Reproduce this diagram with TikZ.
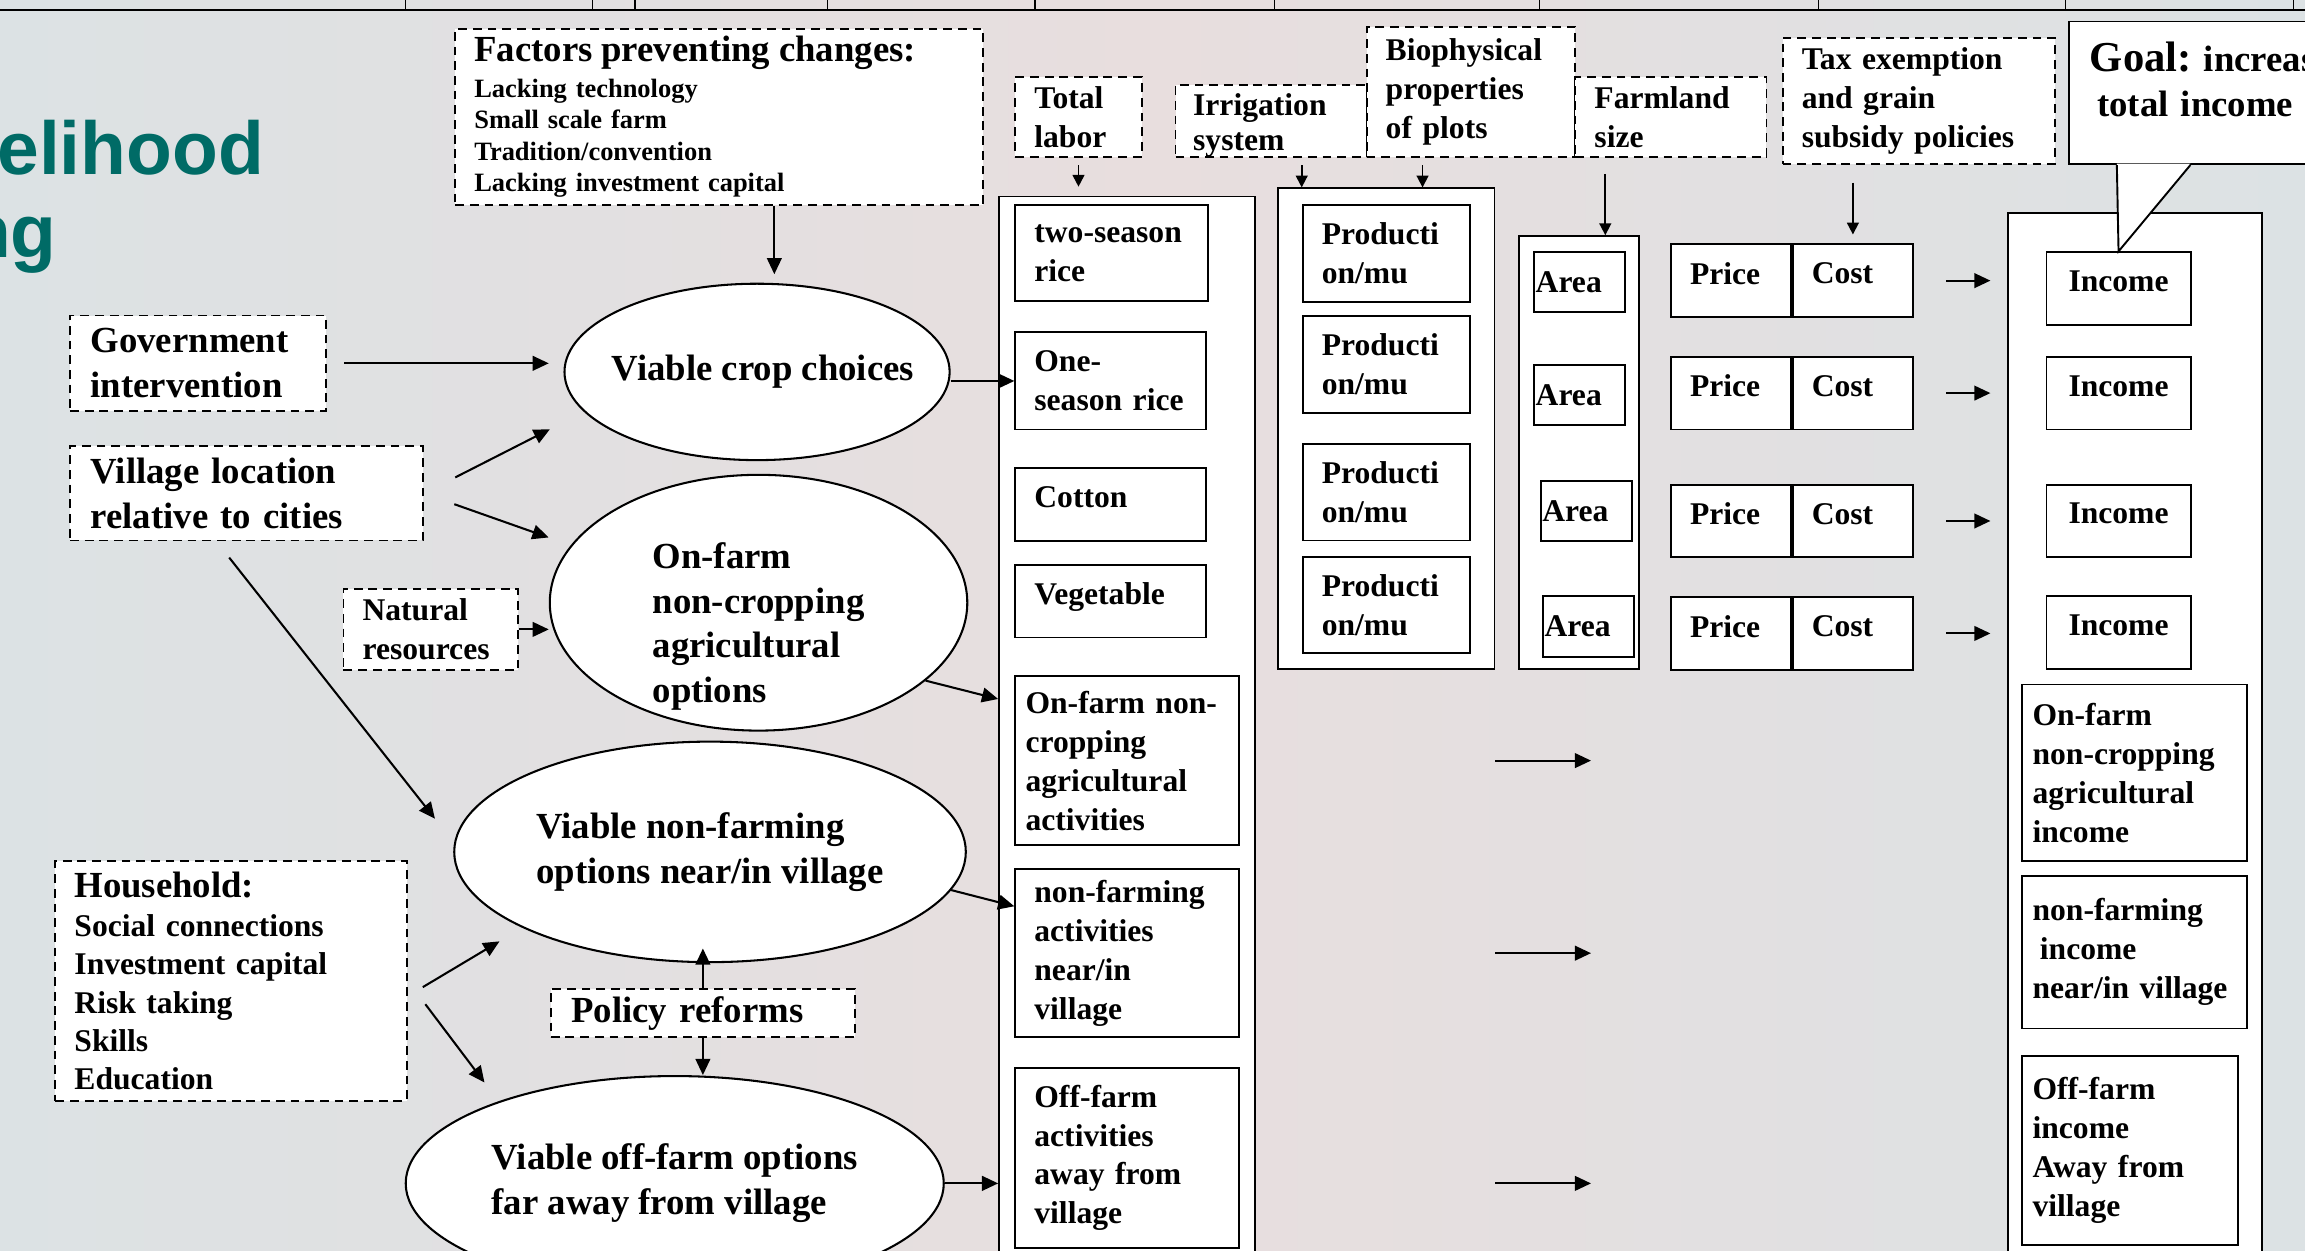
\documentclass[tikz,border=0pt]{standalone}
\usepackage{fontspec}
\setmainfont{Liberation Serif}
\newfontfamily\slidesans{Liberation Sans}
\usepackage{tikz}
\usetikzlibrary{arrows.meta,positioning,shapes.geometric,calc}
\definecolor{slideteal}{HTML}{006B66}
\definecolor{bgblue}{HTML}{DCE2E4}
\definecolor{bgpink}{HTML}{E8DEDE}
\newcommand{\bigtxt}{\fontsize{25}{30.5}\selectfont\bfseries}
\newcommand{\midtxt}{\fontsize{21.5}{26.5}\selectfont\bfseries}
\newcommand{\smalltxt}{\fontsize{18}{21.5}\selectfont\bfseries}
\newcommand{\goaltxt}{\fontsize{29}{31}\selectfont\bfseries}
\newcommand{\titletxt}{\slidesans\fontsize{51}{56}\selectfont\bfseries}

\begin{document}
\begin{tikzpicture}[x=1pt,y=-1pt,
  cell/.style={draw,fill=white,line width=1.3pt,anchor=north west,align=left,
               inner ysep=0pt,font=\midtxt},
  dbox/.style={cell,dash pattern=on 6pt off 4pt},
  sz/.style n args={4}{minimum width=#1pt,minimum height=#2pt,inner xsep=#3pt,text width=#4pt},
  one/.style={text depth=10pt},
  col/.style={draw,fill=white,line width=1.3pt,anchor=north west,inner sep=0pt},
  oval/.style={ellipse,draw,fill=white,line width=1.4pt,inner sep=0pt,align=left,font=\bigtxt},
  arr/.style={-{Triangle[length=11pt,width=10pt]},line width=1.4pt},
  arrs/.style={-{Triangle[length=8pt,width=8pt]},line width=1.2pt}
]
\useasboundingbox (0,0) rectangle (1568,851);
\shade[left color=bgblue,right color=bgblue,middle color=bgpink] (0,0) rectangle (1568,851);
\draw[line width=1.6pt] (0,7) -- (1568,7);
\foreach \tx in {276,403,432,563,704,867,1047,1237,1405,1560}
  \draw[line width=0.8pt] (\tx,0) -- (\tx,7);

\node[text=slideteal,font=\titletxt,anchor=base west,inner sep=0pt] (ttl1) at (-2,119) {elihood};
\node[text=slideteal,font=\titletxt,anchor=base west,inner sep=0pt] (ttl2) at (-24,175.5) {ng};

\node[dbox,sz={359}{120}{13}{333},font=\smalltxt] (fact) at (309,19)
  {{\bigtxt Factors preventing changes:}\\[2.5pt]Lacking technology\\Small scale farm\\Tradition/convention\\Lacking investment capital};
\node[dbox,sz={174}{65}{14}{146},font=\bigtxt] (gov) at (47,214) {Government\\intervention};
\node[dbox,sz={240}{64}{14}{212},font=\bigtxt] (vil) at (47,303) {Village location\\relative to cities};
\node[dbox,sz={119}{55}{13}{93}] (nat) at (233,400) {Natural\\resources};
\node[dbox,sz={239}{163}{13}{213},font=\fontsize{21.5}{26}\selectfont\bfseries] (hh) at (37,585)
  {{\bigtxt Household:}\\[1pt]Social connections\\Investment capital\\Risk taking\\Skills\\Education};
\node[dbox,sz={207}{33}{14}{179},font=\bigtxt] (pol) at (374,672) {Policy reforms};

\node[oval,minimum width=262pt,minimum height=120pt,inner xsep=-16pt] (crop) at (515,253) {\hspace*{8pt}Viable crop choices};
\node[oval,minimum width=284pt,minimum height=174pt,inner ysep=-16pt] (onf) at (516,410)
  {\rule{0pt}{50pt}On-farm\\non-cropping\\agricultural\\options};
\node[oval,minimum width=348pt,minimum height=150pt] (nf) at (483,579.5) {Viable non-farming\\options near/in village};
\node[oval,minimum width=366pt,minimum height=146pt] (off) at (459,805) {Viable off-farm options\\far away from village};

\node[dbox,sz={86}{54}{13}{60}] (tl) at (690,52) {Total\\labor};
\node[dbox,sz={130}{49}{12}{106},font=\fontsize{21.5}{23.5}\selectfont\bfseries,text depth=22pt] (irr) at (799,57) {Irrigation\\system};
\node[dbox,sz={142}{88}{13}{116}] (bio) at (929,18) {Biophysical\\properties\\of plots};
\node[dbox,sz={130}{54}{13}{104}] (farm) at (1071,52) {Farmland\\size};
\node[dbox,sz={185}{86}{13}{159}] (tax) at (1212,25) {Tax exemption\\and grain\\subsidy policies};

\node[col,minimum width=174pt,minimum height=740pt] (actcol) at (679,133) {};
\node[col,minimum width=147pt,minimum height=327pt] (prodcol) at (869,127.5) {};
\node[col,minimum width=82pt,minimum height=294.5pt] (areacol) at (1032.5,160) {};
\node[col,minimum width=173pt,minimum height=730pt] (inccol) at (1365,144) {};

\node[cell,sz={131}{65}{13}{105}] (rice2) at (690,139) {two-season\\rice};
\node[cell,sz={130}{66}{13}{104}] (rice1) at (690,225.5) {One-\\season rice};
\node[cell,one,sz={130}{49.5}{13}{104}] (cotton) at (690,318) {Cotton};
\node[cell,one,sz={130}{49.5}{13}{104}] (veg) at (690,383.5) {Vegetable};
\node[cell,sz={152}{114.5}{7}{138}] (onfa) at (690,459.5) {On-farm non-\\cropping\\agricultural\\activities};
\node[cell,sz={152}{114.5}{13}{126}] (nfa) at (690,590.5) {non-farming\\activities\\near/in\\village};
\node[cell,sz={152}{122}{13}{126}] (offa) at (690,726) {Off-farm\\activities\\away from\\village};

\foreach \i/\y in {1/139,2/214.5,3/301.5,4/378}
  \node[cell,sz={114}{65.5}{13}{88}] (prod\i) at (885.5,\y) {Producti\\on/mu};
\foreach \i/\x/\y in {1/1043/170.5,2/1043/247.5,3/1047.5/326.5,4/1049/405}
  \node[cell,sz={62}{41}{1}{60}] (area\i) at (\x,\y) {Area};
\foreach \i/\y in {1/165.5,2/242,3/329,4/405.5} {
  \node[cell,one,sz={81.5}{49.5}{13}{55.5}] (price\i) at (1136,\y) {Price};
  \node[cell,one,sz={82}{49.5}{13}{56},right=0pt of price\i] (cost\i) {Cost};
}
\foreach \i/\y in {1/171,2/242,3/329,4/405}
  \node[cell,one,align=center,minimum width=98pt,minimum height=49.5pt] (inc\i) at (1391.5,\y) {Income};
\node[cell,sz={153}{120}{7}{139}] (onfinc) at (1375,465) {On-farm\\non-cropping\\agricultural\\income};
\node[cell,sz={153}{104}{7}{139}] (nfinc) at (1375,595) {non-farming\\\hspace*{5pt}income\\near/in village};
\node[cell,sz={147}{128}{7}{133}] (offinc) at (1375,718) {Off-farm\\income\\Away from\\village};

\draw[arr,shorten >=6pt] (fact.south -| crop.79) -- (crop.79);
\draw[arr,shorten <=12pt,shorten >=10pt] (gov.east) -- (gov.east -| crop.west);
\draw[arr,shorten <=24pt,shorten >=26pt] (vil.east) -- (crop.193);
\draw[arr,shorten <=22pt,shorten >=16pt] (vil.east) -- (onf.163);
\draw[arr,shorten <=14pt,shorten >=21pt] (vil.238) -- (nf.178);
\draw[arr] (nat.east) -- (nat.east -| onf.west);
\draw[arr,shorten <=12pt,shorten >=18pt] (hh.-5) -- (nf.202);
\draw[arr,shorten <=20pt,shorten >=16pt] (hh.east) -- (off.155);
\draw[arr,shorten >=-10pt] (pol.north) -- (pol.north |- nf.south);
\draw[arr] (pol.south) -- (pol.south |- off.north);
\draw[arr] (crop.east |- rice1.west) -- (rice1.west);
\draw[arr] (onf.-25) -- ($(actcol.west |- onfa.north)+(0,16)$);
\draw[arr] (nf.-9) -- ($(nfa.north west)+(0,26)$);
\draw[arr] (off.east) -- (off.east -| actcol.west);

\draw[arrs,shorten <=5pt,shorten >=6pt] (tl.south) -- (tl.south |- actcol.north);
\draw[arrs,shorten <=5pt] (irr.south -| prod1.west) -- (prodcol.north -| prod1.west);
\coordinate (biofoot) at ($(bio.south west)!0.27!(bio.south east)$);
\draw[arrs,shorten <=5pt] (biofoot) -- (biofoot |- prodcol.north);
\coordinate (farmfoot) at ($(farm.south west)!0.16!(farm.south east)$);
\draw[arrs,shorten <=11pt] (farmfoot) -- (farmfoot |- areacol.north);
\draw[arrs,shorten <=12pt,shorten >=6pt] (tax.south -| cost1.north) -- (cost1.north);

\foreach \i in {1,...,4}
  \draw[arr,shorten <=22pt,shorten >=11pt] (cost\i.east) -- (cost\i.east -| inccol.west);
\foreach \n in {onfa,nfa,off}
  \draw[arr] (\n.east -| prodcol.east) -- ++(65,0);

\node[cell,font=\bigtxt,sz={180}{97}{14}{152}] (goal) at (1407,14)
  {\mbox{{\goaltxt Goal:}\ increas}\\\hspace*{5pt}total income\rule[-18pt]{0pt}{18pt}};
\coordinate (tipl) at ($(goal.south west)+(33,0)$);
\coordinate (tipr) at ($(goal.south west)+(83,0)$);
\fill[white] ($(tipl)+(0,-1)$) -- (inc1.north) -- ($(tipr)+(0,-1)$) -- cycle;
\draw[line width=1.3pt] (tipl) -- (inc1.north) -- (tipr);
\end{tikzpicture}
\end{document}
